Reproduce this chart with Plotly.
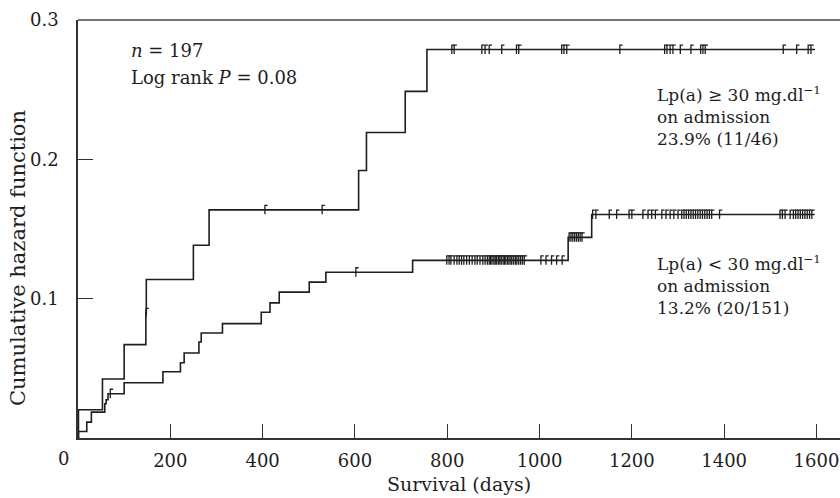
import numpy as np
import plotly.graph_objects as go

# ---- data ----
high_t = [0, 1, 53, 100, 147, 148, 250, 284, 608, 625, 709, 756, 1597]
high_h = [0, 0.0203, 0.0423, 0.067, 0.0898, 0.1138, 0.1383, 0.1637, 0.192, 0.2193, 0.2488, 0.2788, 0.2788]
high_cens = [147.5, 405, 529, 810, 815, 875, 882, 891, 918, 950, 955, 1048, 1053, 1059,
             1174, 1271, 1276, 1283, 1289, 1305, 1328, 1349, 1354, 1359, 1528, 1557, 1582, 1588]

low_t = [0, 1, 19, 29, 58, 61, 65, 100, 184, 222, 230, 262, 267, 313, 397, 416, 436,
         501, 537, 725, 1062, 1113, 1596]
low_h = [0, 0.0047, 0.0114, 0.0186, 0.0246, 0.0275, 0.0318, 0.0396, 0.0476, 0.054, 0.061,
         0.0689, 0.0754, 0.0821, 0.0903, 0.097, 0.1047, 0.1119, 0.119, 0.1275, 0.144, 0.1604, 0.1604]
low_cens = [70, 602,
            799, 804, 808, 815, 821, 826, 831, 836, 842, 848, 854, 860, 865, 871, 877, 882, 887,
            891, 894, 897, 901, 904, 907, 911, 914, 917, 921, 924, 927, 931, 934, 938,
            940, 944, 948, 951, 955, 959, 963, 967,
            1003, 1014, 1026, 1037, 1049,
            1064, 1068, 1072, 1076, 1080, 1084, 1088, 1092,
            1115, 1122, 1151, 1167, 1194, 1200, 1224, 1235, 1243, 1251,
            1265, 1274, 1283, 1291, 1300,
            1308, 1313, 1318, 1323, 1328, 1333, 1338, 1343, 1348, 1353, 1358, 1363, 1368, 1373,
            1390, 1521, 1526, 1532, 1543,
            1550, 1555, 1560, 1565, 1570, 1575, 1580, 1585, 1590]

x_ticks = [200, 400, 600, 800, 1000, 1200, 1400, 1600]
y_ticks = [0.1, 0.2, 0.3]
y_tick_text = ["0.1", "0.2", "0.3"]

FONT = "DejaVu Serif"
INK = "#1e1e1e"

def step_at(ts, hs, t):
    ts = np.asarray(ts); hs = np.asarray(hs)
    i = np.searchsorted(ts, t, side="right") - 1
    return float(hs[i])

def censor_path(ts, hs, cens, dy=0.0032, dx=6.0):
    xs, ys = [], []
    for c in cens:
        h = step_at(ts, hs, c)
        xs += [c, c, c + dx, None]
        ys += [h - dy, h + dy, h + dy, None]
    return xs, ys

fig = go.Figure()
for ts, hs, cens in [(high_t, high_h, high_cens), (low_t, low_h, low_cens)]:
    fig.add_trace(go.Scatter(x=ts, y=hs, mode="lines", line=dict(shape="hv", color=INK, width=1.6),
                             hoverinfo="skip", showlegend=False))
    cx, cy = censor_path(ts, hs, cens)
    fig.add_trace(go.Scatter(x=cx, y=cy, mode="lines", line=dict(color=INK, width=1.3),
                             hoverinfo="skip", showlegend=False))

fig.update_layout(
    width=840, height=498,
    margin=dict(l=78, r=0, t=20, b=60),
    paper_bgcolor="white", plot_bgcolor="white",
    font=dict(family=FONT, size=18, color=INK),
    showlegend=False,
    xaxis=dict(range=[0, 1651], tickvals=x_ticks, ticks="inside", ticklen=14, tickwidth=1,
               tickcolor="#333", showline=True, linecolor="#333", linewidth=1.5,
               showgrid=False, zeroline=False, ticklabelstandoff=6, automargin=False,
               tickfont=dict(family=FONT, size=18, color=INK)),
    yaxis=dict(range=[0, 0.3], tickvals=y_ticks, ticktext=y_tick_text, ticks="inside", ticklen=15,
               tickwidth=1, tickcolor="#333", showline=True, linecolor="#333", linewidth=1.5,
               showgrid=False, zeroline=False, ticklabelstandoff=14, automargin=False,
               tickfont=dict(family=FONT, size=18, color=INK)),
    shapes=[dict(type="line", xref="paper", yref="paper", x0=0, x1=1, y0=1, y1=1,
                 line=dict(color="#444", width=1.5))],
)

ann = [
    dict(text="0", xref="paper", yref="paper", x=0, y=0, xanchor="right", yanchor="top",
         xshift=-7, yshift=-8, font=dict(size=18)),
    dict(text="Survival (days)", xref="paper", yref="paper", x=0.5, y=0, xanchor="center",
         yanchor="top", yshift=-33, font=dict(size=19)),
    dict(text="Cumulative hazard function", xref="paper", yref="paper", x=-0.079, y=0.43,
         xanchor="center", yanchor="middle", textangle=-90, font=dict(size=21)),
    dict(text="<i>n</i> = 197", xref="paper", yref="paper", x=0.067, y=0.957,
         xanchor="left", yanchor="top", font=dict(size=18)),
    dict(text="Log rank <i>P</i> = 0.08", xref="paper", yref="paper", x=0.067, y=0.892,
         xanchor="left", yanchor="top", font=dict(size=18)),
    dict(text="Lp(a) ≥ 30 mg.dl<sup>−1</sup><br>on admission<br>23.9% (11/46)", xref="paper",
         yref="paper", x=0.757, y=0.855, xanchor="left", yanchor="top", align="left",
         font=dict(size=17)),
    dict(text="Lp(a) < 30 mg.dl<sup>−1</sup><br>on admission<br>13.2% (20/151)", xref="paper",
         yref="paper", x=0.757, y=0.45, xanchor="left", yanchor="top", align="left",
         font=dict(size=17)),
]
for a in ann:
    a["showarrow"] = False
fig.update_layout(annotations=ann)

fig.write_html("out.html", config={"displayModeBar": False},
               post_script="document.body.style.margin='0';")
